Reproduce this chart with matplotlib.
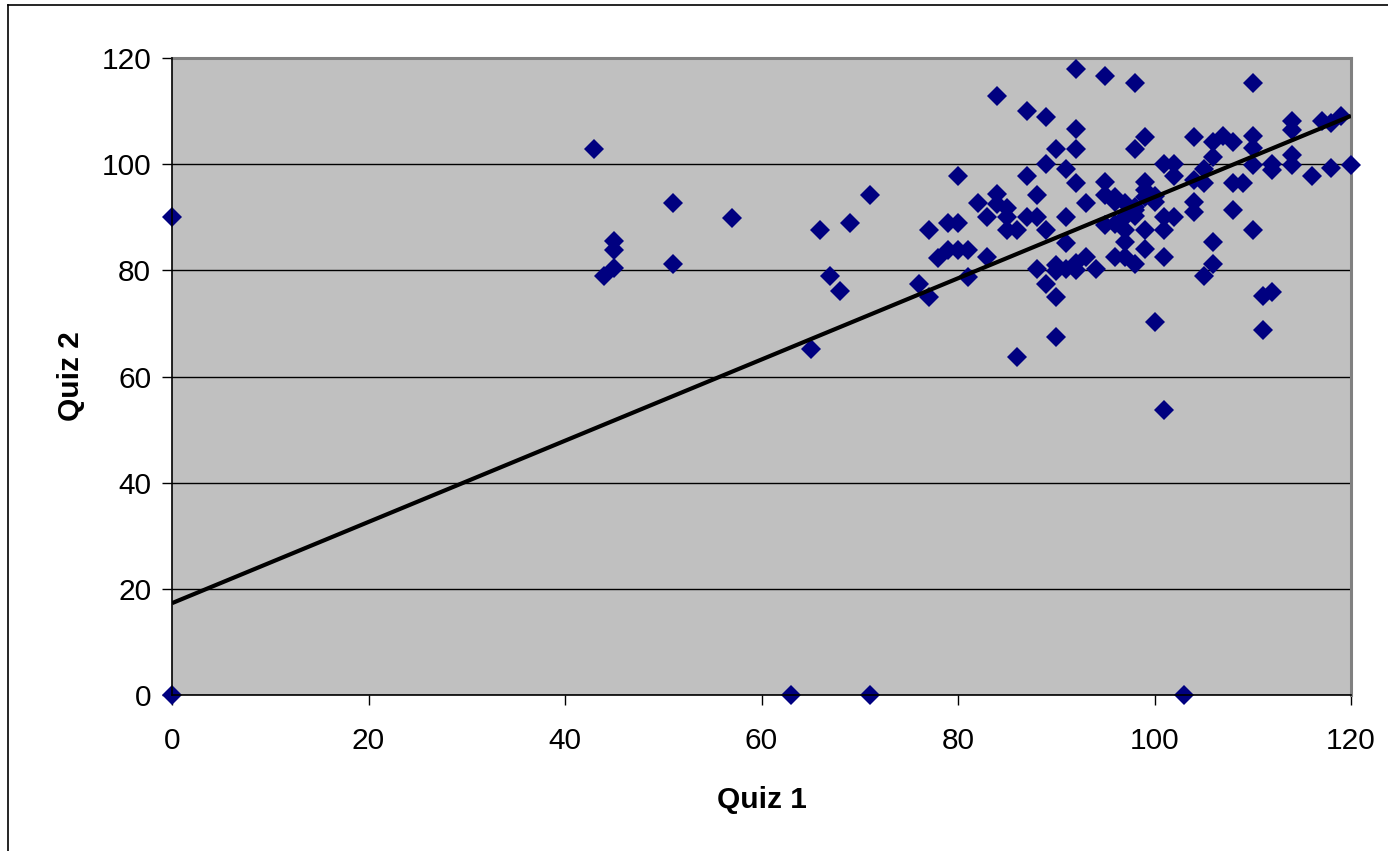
import matplotlib
matplotlib.use("Agg")
import matplotlib.pyplot as plt
from matplotlib.lines import Line2D

# ---- data ----
quiz1 = [0, 0,
         43, 44, 45, 45, 45,
         51, 51, 57,
         63, 65, 66, 67, 68, 69, 71, 71,
         76, 77, 77,
         78, 79, 79, 80, 80, 80,
         81, 81, 82, 83, 83,
         84, 84, 84,
         85, 85, 85,
         86, 86,
         87, 87, 87,
         88, 88, 88,
         89, 89, 89, 89,
         90, 90, 90, 90, 90,
         91, 91, 91, 91,
         92, 92, 92, 92, 92, 92,
         93, 93,
         94,
         95, 95, 95, 95,
         96, 96, 96, 96,
         97, 97, 97, 97, 97,
         98, 98, 98, 98, 98, 98,
         99, 99, 99, 99, 99, 99,
         100, 100, 100,
         101, 101, 101, 101, 101,
         102, 102, 102,
         103,
         104, 104, 104, 104,
         105, 105, 105,
         106, 106, 106, 106,
         107, 108, 108, 108, 109,
         110, 110, 110, 110, 110,
         111, 111, 112, 112, 112,
         114, 114, 114, 114,
         116, 117, 118, 118, 119, 120]
quiz2 = [90.0, 0.0,
         102.8, 78.9, 85.5, 83.8, 80.4,
         92.7, 81.2, 89.9,
         0.0, 65.1, 87.6, 78.9, 76.2, 89.0, 94.1, 0.0,
         77.5, 87.6, 75.0,
         82.4, 83.8, 89.0, 83.8, 89.0, 97.8,
         83.8, 78.8, 92.7, 82.5, 90.1,
         112.8, 94.4, 92.5,
         91.7, 90.1, 87.6,
         87.6, 63.7,
         110.1, 97.8, 90.1,
         94.2, 90.1, 80.3,
         108.8, 100.0, 87.6, 77.5,
         102.9, 81.0, 79.9, 75.0, 67.5,
         99.1, 90.1, 85.2, 80.3,
         118.0, 106.6, 102.9, 96.4, 81.4, 80.1,
         92.7, 82.6,
         80.3,
         116.6, 96.6, 94.1, 88.5,
         93.8, 88.8, 82.6, 92.9,
         92.6, 87.6, 85.4, 82.6, 90.1,
         115.3, 102.9, 92.0, 91.3, 81.1, 90.3,
         105.2, 96.6, 95.2, 87.6, 84.0, 93.9,
         92.9, 70.2, 94.0,
         100.0, 90.1, 87.6, 82.6, 53.7,
         100.0, 97.8, 90.1,
         0.0,
         105.2, 92.9, 91.0, 97.0,
         99.1, 96.4, 78.9,
         104.2, 101.4, 85.4, 81.2,
         105.3, 104.2, 96.4, 91.4, 96.4,
         115.3, 105.3, 103.0, 99.8, 87.6,
         75.2, 68.8, 76.0, 100.1, 98.9,
         108.1, 106.4, 101.7, 99.8,
         97.8, 108.1, 107.7, 99.2, 109.1, 99.9]

trend_x = [0, 120]
trend_y = [17.3, 109.1]

x_ticks = [0, 20, 40, 60, 80, 100, 120]
y_ticks = [0, 20, 40, 60, 80, 100, 120]
x_label = "Quiz 1"
y_label = "Quiz 2"

# ---- figure ----
plt.rcParams['font.family'] = ['Liberation Sans', 'DejaVu Sans']
fig = plt.figure(figsize=(13.88, 8.51), dpi=100)
fig.patch.set_facecolor('white')

W, H = 1388, 851
ax = fig.add_axes([172 / W, 1 - 695 / H, (1351 - 172) / W, (695 - 58) / H])
ax.set_facecolor('#C0C0C0')

ax.plot(quiz1, quiz2, linestyle='none', marker='D', markersize=10,
        markerfacecolor='#000080', markeredgewidth=0, zorder=3, clip_on=False)
ax.plot(trend_x, trend_y, color='black', linewidth=3.0, zorder=4,
        solid_capstyle='butt')

ax.set_xlim(0, 120)
ax.set_ylim(0, 120)
ax.set_xticks(x_ticks)
ax.set_yticks(y_ticks)
ax.set_xticklabels([str(v) for v in x_ticks])
ax.set_yticklabels([str(v) for v in y_ticks])

ax.yaxis.grid(True, color='black', linewidth=1.0)
ax.set_axisbelow(True)

for side in ['top', 'right']:
    ax.spines[side].set_color('#808080')
    ax.spines[side].set_linewidth(2.2)
for side in ['left', 'bottom']:
    ax.spines[side].set_color('black')
    ax.spines[side].set_linewidth(1.2)
    ax.spines[side].set_zorder(5)

ax.tick_params(axis='both', direction='out', length=7, width=1.0,
               labelsize=21.5, colors='black')
ax.tick_params(axis='y', pad=8)
ax.tick_params(axis='x', pad=16)

ax.set_xlabel(x_label, fontsize=21.5, fontweight='bold', labelpad=22)
ax.set_ylabel(y_label, fontsize=21.5, fontweight='bold', labelpad=12)

# chart-area border (left and top edges visible)
fig.add_artist(Line2D([8 / W, 8 / W], [0, 1 - 5 / H], color='black',
                      linewidth=1.2, transform=fig.transFigure))
fig.add_artist(Line2D([8 / W, 1], [1 - 5 / H, 1 - 5 / H], color='black',
                      linewidth=1.2, transform=fig.transFigure))

fig.savefig('out.png', dpi=100, facecolor='white')
